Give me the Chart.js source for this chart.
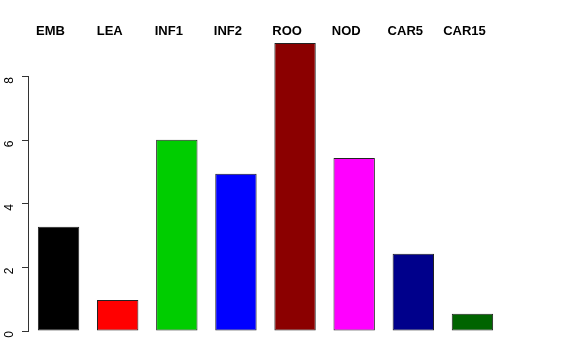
<!DOCTYPE html>
<html>
<head>
<meta charset="utf-8">
<script src="https://cdn.jsdelivr.net/npm/chart.js@4"></script>
<style>
  html, body { margin: 0; padding: 0; background: #fff; }
  #wrap { width: 576px; height: 360px; }
</style>
</head>
<body>
<div id="wrap"><canvas id="chart"></canvas></div>
<script>
// data
const categories = ['EMB', 'LEA', 'INF1', 'INF2', 'ROO', 'NOD', 'CAR5', 'CAR15'];
const values = [3.28, 0.98, 6.02, 4.95, 9.07, 5.45, 2.43, 0.54];
const barColors = ['#000000', '#FF0000', '#00CD00', '#0000FF', '#8B0000', '#FF00FF', '#00008B', '#006400'];
const yTicks = [0, 2, 4, 6, 8];

// R-style axis line: only spans the first to last tick
const axisLine = {
    id: 'axisLine',
    afterDraw(chart) {
        const y = chart.scales.y;
        const ctx = chart.ctx;
        const x = Math.round(y.right) - 0.5;
        ctx.save();
        ctx.strokeStyle = '#333';
        ctx.lineWidth = 1;
        ctx.beginPath();
        ctx.moveTo(x, y.getPixelForValue(yTicks[0]));
        ctx.lineTo(x, y.getPixelForValue(yTicks[yTicks.length - 1]));
        ctx.stroke();
        ctx.restore();
    }
};

new Chart(document.getElementById('chart'), {
    type: 'bar',
    data: {
        labels: categories,
        datasets: [{
            data: values,
            backgroundColor: barColors,
            borderColor: '#222',
            borderWidth: 1,
            borderSkipped: false,
            categoryPercentage: 1,
            barPercentage: 0.7
        }]
    },
    options: {
        responsive: true,
        maintainAspectRatio: false,
        animation: false,
        layout: { padding: { top: 0, right: 74, bottom: 29, left: 0 } },
        plugins: { legend: { display: false }, tooltip: { enabled: false } },
        scales: {
            x: {
                position: 'top',
                grid: { display: false },
                border: { display: false },
                ticks: {
                    color: '#000',
                    font: { family: 'Liberation Sans', size: 13, weight: 'bold' },
                    labelOffset: -8,
                    padding: -4,
                    maxRotation: 0
                },
                afterFit(scale) { scale.height = 43; }
            },
            y: {
                min: 0,
                max: 9.07,
                afterBuildTicks(scale) {
                    scale.ticks = yTicks.map(v => ({ value: v }));
                },
                grid: {
                    drawOnChartArea: false,
                    color: '#333',
                    tickLength: 7
                },
                border: { display: false },
                ticks: {
                    color: '#000',
                    font: { family: 'Liberation Sans', size: 12 },
                    minRotation: 90,
                    maxRotation: 90,
                    padding: 12
                },
                afterFit(scale) { scale.width = 29; }
            }
        }
    },
    plugins: [axisLine]
});
</script>
</body>
</html>
